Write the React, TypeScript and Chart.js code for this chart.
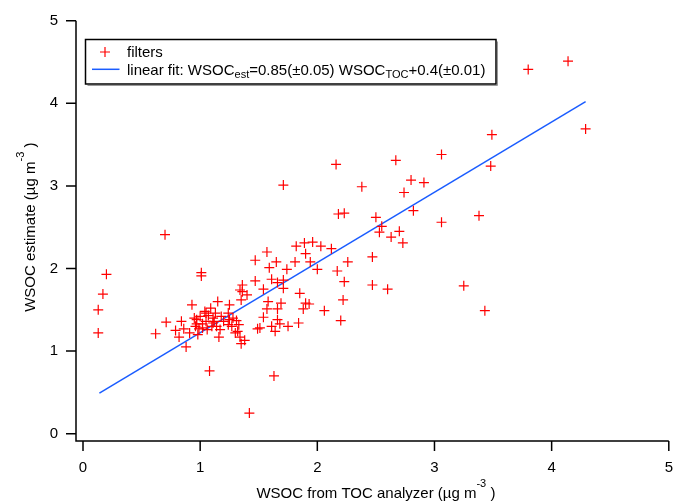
import React, { useEffect, useRef } from "react";
import { Chart, registerables } from "chart.js";

Chart.register(...registerables);

const FONT = '"Liberation Sans", Arial, Helvetica, sans-serif';

const xTicks = [0, 1, 2, 3, 4, 5];
const yTicks = [0, 1, 2, 3, 4, 5];

const filterX = [
  0.13, 0.13, 0.17, 0.2, 0.62, 0.7, 0.71, 0.79, 0.82, 0.84, 0.86, 0.88, 0.91, 0.93, 0.95, 0.96, 0.97, 0.98, 0.99,
  1.0, 1.01, 1.01, 1.02, 1.04, 1.05, 1.06, 1.07, 1.08, 1.09, 1.1, 1.11, 1.11, 1.13, 1.15, 1.16, 1.17, 1.18, 1.2,
  1.24, 1.24, 1.25, 1.25, 1.27, 1.3, 1.31, 1.32, 1.33, 1.34, 1.34, 1.35, 1.35, 1.36, 1.36, 1.38, 1.4, 1.42,
  1.47, 1.47, 1.49, 1.51, 1.54, 1.54, 1.57, 1.57, 1.58, 1.59, 1.61, 1.61, 1.63, 1.64, 1.65, 1.66, 1.66, 1.66,
  1.68, 1.69, 1.71, 1.71, 1.71, 1.74, 1.75, 1.81, 1.82, 1.84, 1.85, 1.88, 1.89, 1.9, 1.9, 1.93, 1.94, 1.96,
  2.0, 2.03, 2.06, 2.12, 2.16, 2.17, 2.18, 2.2, 2.22, 2.23, 2.23, 2.26, 2.38, 2.47, 2.47, 2.5, 2.53, 2.55, 2.6,
  2.63, 2.67, 2.7, 2.73, 2.74, 2.8, 2.82, 2.91, 3.06, 3.06, 3.25, 3.38, 3.43, 3.48, 3.49, 3.8, 4.14, 4.29,
  1.02, 1.05, 1.12, 0.97, 1.28, 1.14,
];
const filterY = [
  1.22, 1.5, 1.69, 1.93, 1.21, 2.41, 1.35, 1.25, 1.17, 1.36, 1.27, 1.05, 1.22, 1.56, 1.4, 1.3, 1.38, 1.2, 1.27,
  1.42, 1.95, 1.91, 1.33, 1.48, 1.36, 1.26, 1.43, 0.76, 1.52, 1.3, 1.4, 1.34, 1.46, 1.6, 1.17, 1.26, 1.42, 1.36,
  1.46, 1.32, 1.56, 1.38, 1.3, 1.22, 1.37, 1.24, 1.32, 1.17, 1.74, 1.09, 1.62, 1.8, 1.72, 1.13, 1.68, 0.25,
  2.1, 1.85, 1.27, 1.28, 1.75, 1.41, 2.2, 1.51, 1.6, 2.01, 1.87, 1.3, 0.7, 1.24, 2.08, 1.83, 1.51, 1.38,
  1.33, 1.58, 1.86, 1.76, 3.01, 1.99, 1.3, 2.08, 2.27, 1.34, 1.7, 1.51, 2.31, 2.18, 1.58, 1.57, 2.08, 2.32,
  1.99, 2.27, 1.49, 2.24, 3.26, 1.97, 2.66, 1.37, 1.62, 2.67, 1.84, 2.08, 2.99, 2.14, 1.8, 2.62, 2.44, 2.51, 1.75,
  2.38, 3.31, 2.45, 2.31, 2.92, 3.07, 2.7, 3.04, 3.38, 2.56, 1.79, 2.64, 1.49, 3.24, 3.62, 4.41, 4.51, 3.69,
  1.28, 1.46, 1.36, 1.33, 1.4, 1.3,
];

const fitX = [0.14, 4.29];
const fitY = [0.49, 4.02];

type Seg = { text: string; size: number; dy?: number };

function drawRich(ctx: CanvasRenderingContext2D, segs: Seg[], x: number, y: number) {
  let cx = x;
  for (const s of segs) {
    ctx.font = `${s.size}px ${FONT}`;
    ctx.fillText(s.text, cx, y + (s.dy || 0));
    cx += ctx.measureText(s.text).width;
  }
  return cx;
}
function richWidth(ctx: CanvasRenderingContext2D, segs: Seg[]) {
  let w = 0;
  for (const s of segs) {
    ctx.font = `${s.size}px ${FONT}`;
    w += ctx.measureText(s.text).width;
  }
  return w;
}

const axisPlugin = {
  id: "igorAxes",
  afterDraw(chart: any) {
    const ctx: CanvasRenderingContext2D = chart.ctx;
    const xs = chart.scales.x;
    const ys = chart.scales.y;
    const ca = chart.chartArea;
    const axX = ca.left - 7;
    const axY = ca.bottom + 7.3;
    const tickLen = 10;
    ctx.save();
    ctx.strokeStyle = "#000";
    ctx.lineWidth = 1.5;
    ctx.beginPath();
    ctx.moveTo(axX, ys.getPixelForValue(yTicks[yTicks.length - 1]));
    ctx.lineTo(axX, axY);
    ctx.lineTo(xs.getPixelForValue(xTicks[xTicks.length - 1]), axY);
    for (const v of yTicks) {
      const p = ys.getPixelForValue(v);
      ctx.moveTo(axX, p);
      ctx.lineTo(axX - tickLen, p);
    }
    for (const v of xTicks) {
      const p = xs.getPixelForValue(v);
      ctx.moveTo(p, axY);
      ctx.lineTo(p, axY + tickLen);
    }
    ctx.stroke();

    ctx.fillStyle = "#000";
    ctx.textBaseline = "alphabetic";
    ctx.textAlign = "left";
    const xt: Seg[] = [
      { text: "WSOC from TOC analyzer (\u00b5g m", size: 15 },
      { text: "-3", size: 11, dy: -11 },
      { text: " )", size: 15 },
    ];
    const xw = richWidth(ctx, xt);
    drawRich(ctx, xt, (ca.left + ca.right) / 2 - xw / 2, 498);
    const yt: Seg[] = [
      { text: "WSOC estimate (\u00b5g m", size: 15 },
      { text: "-3", size: 11, dy: -11 },
      { text: " )", size: 15 },
    ];
    const yw = richWidth(ctx, yt);
    ctx.save();
    ctx.translate(34.5, (ca.top + ca.bottom) / 2);
    ctx.rotate(-Math.PI / 2);
    drawRich(ctx, yt, -yw / 2, 0);
    ctx.restore();

    const bx = 85.5, by = 39.5, bw = 410.5, bh = 44.5;
    ctx.strokeStyle = "#999";
    ctx.lineWidth = 1;
    ctx.beginPath();
    ctx.moveTo(bx + bw + 1.5, by + 2);
    ctx.lineTo(bx + bw + 1.5, by + bh + 1.5);
    ctx.lineTo(bx + 2, by + bh + 1.5);
    ctx.stroke();
    ctx.fillStyle = "#fff";
    ctx.fillRect(bx, by, bw, bh);
    ctx.strokeStyle = "#000";
    ctx.lineWidth = 1.5;
    ctx.strokeRect(bx, by, bw, bh);
    ctx.strokeStyle = "#ff0000";
    ctx.lineWidth = 1.2;
    ctx.beginPath();
    ctx.moveTo(105, 47);
    ctx.lineTo(105, 57);
    ctx.moveTo(100, 52);
    ctx.lineTo(110, 52);
    ctx.stroke();
    ctx.strokeStyle = "#1a5cff";
    ctx.lineWidth = 1.5;
    ctx.beginPath();
    ctx.moveTo(92, 69.3);
    ctx.lineTo(119.5, 69.3);
    ctx.stroke();
    ctx.fillStyle = "#000";
    drawRich(ctx, [{ text: "filters", size: 15 }], 127, 57.3);
    drawRich(
      ctx,
      [
        { text: "linear fit: WSOC", size: 15 },
        { text: "est", size: 11, dy: 3.5 },
        { text: "=0.85(\u00b10.05) WSOC", size: 15 },
        { text: "TOC", size: 11, dy: 3.5 },
        { text: "+0.4(\u00b10.01)", size: 15 },
      ],
      127,
      74.5
    );
    ctx.restore();
  },
};

function zeroPad(s: any) {
  s.paddingLeft = 0;
  s.paddingRight = 0;
  s.paddingTop = 0;
  s.paddingBottom = 0;
}

export default function App() {
  const ref = useRef<HTMLCanvasElement | null>(null);
  useEffect(() => {
    if (!ref.current) return;
    const pts = filterX.map((x, i) => ({ x, y: filterY[i] }));
    const fit = fitX.map((x, i) => ({ x, y: fitY[i] }));
    const chart = new Chart(ref.current, {
      type: "scatter",
      data: {
        datasets: [
          {
            label: "filters",
            data: pts,
            pointStyle: "cross",
            pointRadius: 5,
            pointBorderWidth: 1.2,
            borderColor: "#ff0000",
            backgroundColor: "#ff0000",
            showLine: false,
          } as any,
          {
            type: "line",
            label: "linear fit",
            data: fit,
            borderColor: "#1a5cff",
            borderWidth: 1.5,
            pointRadius: 0,
            showLine: true,
            fill: false,
          } as any,
        ],
      },
      options: {
        animation: false,
        responsive: false,
        devicePixelRatio: 1,
        layout: { padding: { left: 0, top: 20.7, right: 5.7, bottom: 0 } },
        plugins: { legend: { display: false }, tooltip: { enabled: false }, title: { display: false } },
        scales: {
          x: {
            type: "linear",
            min: 0,
            max: 5,
            afterBuildTicks: (s: any) => {
              s.ticks = xTicks.map((v) => ({ value: v }));
            },
            afterFit: (s: any) => {
              s.height = 502 - 433.7;
              zeroPad(s);
            },
            grid: { display: false, drawTicks: false },
            border: { display: false },
            ticks: { color: "#000", font: { size: 15, family: FONT }, padding: 25, maxRotation: 0 },
          },
          y: {
            type: "linear",
            min: 0,
            max: 5,
            afterBuildTicks: (s: any) => {
              s.ticks = yTicks.map((v) => ({ value: v }));
            },
            afterFit: (s: any) => {
              s.width = 83;
              zeroPad(s);
            },
            grid: { display: false, drawTicks: false },
            border: { display: false },
            ticks: { color: "#000", font: { size: 15, family: FONT }, padding: 25 },
          },
        },
      },
      plugins: [axisPlugin],
    });
    return () => chart.destroy();
  }, []);
  return (
    <div style={{ position: "fixed", left: 0, top: 0, width: 675, height: 502, background: "#fff" }}>
      <canvas ref={ref} width={675} height={502} style={{ display: "block" }} />
    </div>
  );
}
